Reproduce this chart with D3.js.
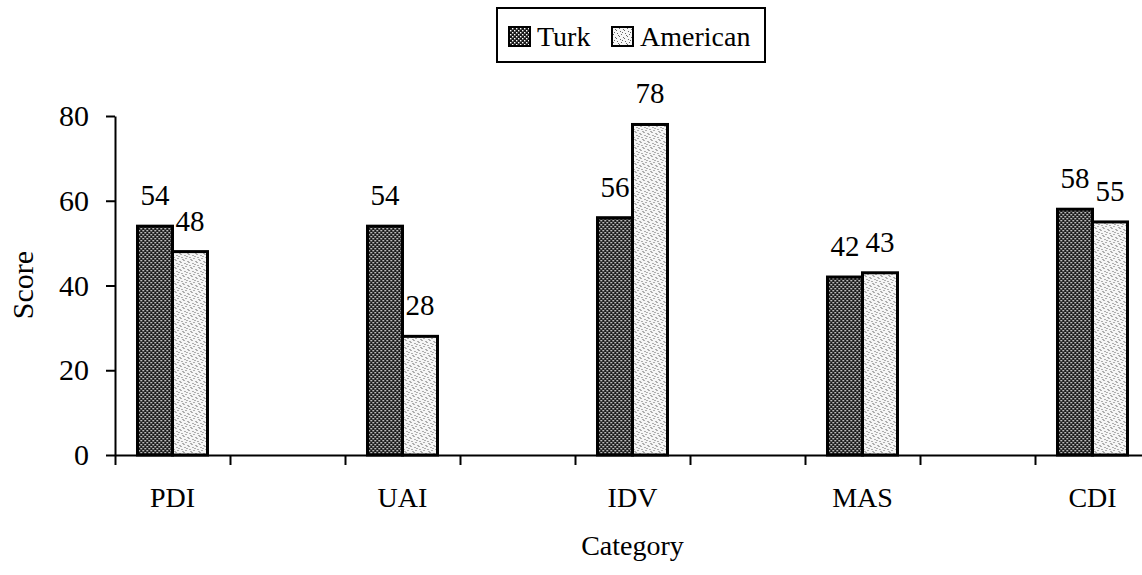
<!DOCTYPE html>
<html>
<head>
<meta charset="utf-8">
<script src="https://cdn.jsdelivr.net/npm/d3@7"></script>
<style>
  body { margin: 0; background: #fff; }
  svg { display: block; }
  svg text { font-family: "Liberation Serif", "Times New Roman", serif; fill: #000; }
</style>
</head>
<body>
<svg id="chart"></svg>
<script>
// Data
const categories = ["PDI", "UAI", "IDV", "MAS", "CDI"];
const series = ["Turk", "American"];
const turk = [54, 54, 56, 42, 58];
const american = [48, 28, 78, 43, 55];
const yTicks = [0, 20, 40, 60, 80];

const width = 1142;
const height = 575;
const serif = "Liberation Serif";

const svg = d3.select("#chart")
    .attr("width", width)
    .attr("height", height);

// Patterns for the two series
const defs = svg.append("defs");

const pTurk = defs.append("pattern")
    .attr("id", "pat-turk")
    .attr("patternUnits", "userSpaceOnUse")
    .attr("width", 4).attr("height", 4);
pTurk.append("rect").attr("width", 4).attr("height", 4).attr("fill", "#1a1a1a");
pTurk.append("rect").attr("x", 0).attr("y", 0).attr("width", 1.4).attr("height", 1.4).attr("fill", "#fff");
pTurk.append("rect").attr("x", 2).attr("y", 2).attr("width", 1.4).attr("height", 1.4).attr("fill", "#fff");

const pAm = defs.append("pattern")
    .attr("id", "pat-american")
    .attr("patternUnits", "userSpaceOnUse")
    .attr("width", 8).attr("height", 8);
pAm.append("rect").attr("width", 8).attr("height", 8).attr("fill", "#f6f6f6");
[[1, 1], [5, 2], [3, 4], [7, 5], [0, 6], [4, 7], [6, 0], [2, 3]].forEach(([px, py]) => {
    pAm.append("rect").attr("x", px).attr("y", py).attr("width", 1).attr("height", 1).attr("fill", "#666");
});

const fills = { Turk: "url(#pat-turk)", American: "url(#pat-american)" };

// Scales: nine slots along x, categories sit on every other slot
const x = d3.scaleLinear().domain([0, 9]).range([115, 1150]);
const slotOf = i => 2 * i + 0.5;
const barW = 35;
const xInner = d3.scaleBand().domain(series).range([-barW, barW]);

const y = d3.scaleLinear().domain([0, 80]).range([455, 116]);

// Axes
const gx = svg.append("g")
    .attr("transform", "translate(0,455)")
    .call(d3.axisBottom(x).tickValues(d3.range(9)).tickSize(10).tickSizeOuter(0).tickFormat(""));
gx.selectAll("path, line").attr("stroke", "#000").attr("stroke-width", 2);

const gy = svg.append("g")
    .attr("transform", "translate(115,0)")
    .call(d3.axisLeft(y).tickValues(yTicks).tickSize(9).tickPadding(17).tickSizeOuter(0));
gy.attr("font-family", serif);
gy.selectAll("path, line").attr("stroke", "#000").attr("stroke-width", 2);
gy.selectAll("text")
    .attr("font-family", serif)
    .attr("font-size", 30)
    .attr("fill", "#000");

// Bars
const rows = categories.map((c, i) => ({ cat: c, i: i, Turk: turk[i], American: american[i] }));

const groups = svg.append("g").selectAll("g")
    .data(rows)
    .join("g")
    .attr("transform", d => `translate(${x(slotOf(d.i))},0)`);

groups.selectAll("rect")
    .data(d => series.map(s => ({ s: s, v: d[s] })))
    .join("rect")
    .attr("x", d => xInner(d.s))
    .attr("y", d => y(d.v))
    .attr("width", xInner.bandwidth())
    .attr("height", d => y(0) - y(d.v))
    .attr("fill", d => fills[d.s])
    .attr("stroke", "#000")
    .attr("stroke-width", 3);

groups.selectAll("text.val")
    .data(d => series.map(s => ({ s: s, v: d[s] })))
    .join("text")
    .attr("class", "val")
    .attr("x", d => xInner(d.s) + xInner.bandwidth() / 2)
    .attr("y", d => y(d.v) - 21)
    .attr("text-anchor", "middle")
    .attr("font-family", serif)
    .attr("font-size", 29)
    .text(d => d.v);

// Category labels
svg.append("g").selectAll("text")
    .data(categories)
    .join("text")
    .attr("x", (d, i) => x(slotOf(i)))
    .attr("y", 507)
    .attr("text-anchor", "middle")
    .attr("font-family", serif)
    .attr("font-size", 28)
    .text(d => d);

// Axis titles
svg.append("text")
    .attr("x", x(4.5))
    .attr("y", 555)
    .attr("text-anchor", "middle")
    .attr("font-family", serif)
    .attr("font-size", 28)
    .text("Category");

svg.append("text")
    .attr("transform", "translate(33,285) rotate(-90)")
    .attr("text-anchor", "middle")
    .attr("font-family", serif)
    .attr("font-size", 30)
    .text("Score");

// Legend
const legend = svg.append("g");
legend.append("rect")
    .attr("x", 497).attr("y", 8)
    .attr("width", 268).attr("height", 54)
    .attr("fill", "#fff")
    .attr("stroke", "#000")
    .attr("stroke-width", 2);

const legendX = { Turk: 509, American: 612 };
series.forEach(s => {
    legend.append("rect")
        .attr("x", legendX[s]).attr("y", 27)
        .attr("width", 21).attr("height", 19)
        .attr("fill", fills[s])
        .attr("stroke", "#000")
        .attr("stroke-width", 2);
    legend.append("text")
        .attr("x", legendX[s] + 28)
        .attr("y", 46)
        .attr("font-family", serif)
        .attr("font-size", 28)
        .text(s);
});
</script>
</body>
</html>
